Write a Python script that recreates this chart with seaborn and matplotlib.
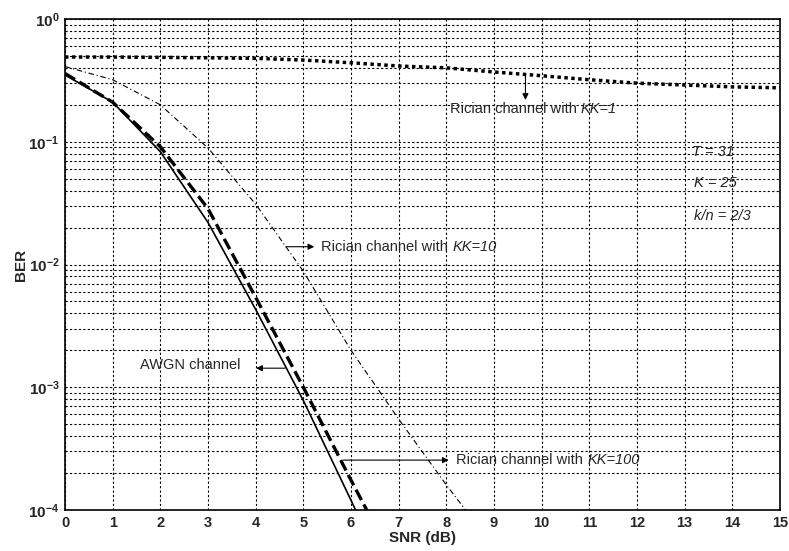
import numpy as np
import pandas as pd
import matplotlib
matplotlib.use("Agg")
import matplotlib.pyplot as plt
import seaborn as sns

# ---- data ----
snr_awgn = [0, 1, 2, 3, 4, 5, 6, 7]
ber_awgn = [0.35, 0.21, 0.083, 0.022, 0.0043, 7.8e-4, 1.2e-4, 1.8e-5]

snr_kk100 = [0, 1, 2, 3, 4, 5, 6, 7]
ber_kk100 = [0.36, 0.21, 0.091, 0.0285, 0.0054, 1.0e-3, 1.75e-4, 3.2e-5]

snr_kk10 = [0, 1, 2, 3, 4, 5, 6, 7, 8, 9]
ber_kk10 = [0.41, 0.32, 0.20, 0.089, 0.031, 0.0088, 0.0020, 5.5e-4, 1.6e-4, 5.0e-5]

snr_kk1 = [0, 1, 2, 3, 4, 5, 6, 7, 8, 9, 10, 11, 12, 13, 14, 15]
ber_kk1 = [0.49, 0.49, 0.487, 0.483, 0.478, 0.463, 0.44, 0.414, 0.40, 0.37,
           0.345, 0.32, 0.30, 0.29, 0.28, 0.275]

x_ticks = list(range(0, 16))
y_ticks = [1e-4, 1e-3, 1e-2, 1e-1, 1e0]
y_tick_labels = [r"$\mathbf{10^{-4}}$", r"$\mathbf{10^{-3}}$", r"$\mathbf{10^{-2}}$",
                 r"$\mathbf{10^{-1}}$", r"$\mathbf{10^{0}}$"]

sns.set_style("white")
plt.rcParams['font.family'] = ['Liberation Sans', 'DejaVu Sans']
plt.rcParams['mathtext.fontset'] = 'custom'
plt.rcParams['mathtext.rm'] = 'Liberation Sans'
plt.rcParams['mathtext.it'] = 'Liberation Sans:italic'
plt.rcParams['mathtext.bf'] = 'Liberation Sans:bold'

fig = plt.figure(figsize=(7.89, 5.51), dpi=100)
ax = fig.add_axes([65/789, 1 - 510/551, (780-65)/789, (510-19)/551])
ax.set_yscale('log')

df_awgn = pd.DataFrame({"SNR": snr_awgn, "BER": ber_awgn})
df_100 = pd.DataFrame({"SNR": snr_kk100, "BER": ber_kk100})
df_10 = pd.DataFrame({"SNR": snr_kk10, "BER": ber_kk10})
df_1 = pd.DataFrame({"SNR": snr_kk1, "BER": ber_kk1})

sns.lineplot(data=df_awgn, x="SNR", y="BER", ax=ax, color='black', lw=1.2,
             linestyle='-')
sns.lineplot(data=df_100, x="SNR", y="BER", ax=ax, color='black', lw=2.4,
             linestyle=(0, (3.5, 1.5)), dash_capstyle='butt')
sns.lineplot(data=df_10, x="SNR", y="BER", ax=ax, color='black', lw=0.8,
             linestyle=(0, (5, 2.5, 1, 2.5)))
sns.lineplot(data=df_1, x="SNR", y="BER", ax=ax, color='black', lw=2.5,
             linestyle=(0, (1, 1)), dash_capstyle='butt')

ax.set_xlim(0, 15)
ax.set_ylim(1e-4, 1)
ax.set_xticks(x_ticks)
ax.set_xticklabels([str(v) for v in x_ticks], fontweight='bold', fontsize=10.5)
ax.set_yticks(y_ticks)
ax.set_yticklabels(y_tick_labels, fontsize=11)
ax.yaxis.set_minor_locator(matplotlib.ticker.LogLocator(base=10, subs=np.arange(2, 10)))
ax.yaxis.set_minor_formatter(matplotlib.ticker.NullFormatter())

ax.grid(True, which='major', axis='both', color='black', linestyle=(0, (2, 2)), lw=0.8)
ax.grid(True, which='minor', axis='y', color='black', linestyle=(0, (2, 2)), lw=0.8)
ax.tick_params(axis='both', which='both', direction='in', length=0, pad=4)
for s in ax.spines.values():
    s.set_color('black')
    s.set_linewidth(1.2)

ax.set_xlabel("SNR (dB)", fontweight='bold', fontsize=11, labelpad=1)
ax.set_ylabel("BER", fontweight='bold', fontsize=11, labelpad=0)

fs = 10.5
arrow = dict(arrowstyle='-|>', color='black', lw=0.8, mutation_scale=9,
             shrinkA=0, shrinkB=0)

# KK=1
ax.annotate("", xy=(9.66, 0.219), xytext=(9.66, 0.35), arrowprops=arrow)
t1 = ax.text(8.07, 0.185, "Rician channel with ", fontsize=fs, va='center', ha='left')
ax.annotate("KK=1", xy=(1, 0.5), xycoords=t1, va='center', ha='left',
            fontsize=fs, style='italic')

# KK=10
ax.annotate("", xy=(5.23, 0.01396), xytext=(4.64, 0.01396), arrowprops=arrow)
t2 = ax.text(5.38, 0.01396, "Rician channel with ", fontsize=fs, va='center', ha='left')
ax.annotate("KK=10", xy=(1, 0.5), xycoords=t2, va='center', ha='left',
            fontsize=fs, style='italic')

# AWGN
ax.annotate("", xy=(4.01, 1.43e-3), xytext=(4.62, 1.43e-3), arrowprops=arrow)
ax.text(1.58, 1.52e-3, "AWGN channel", fontsize=fs, va='center', ha='left')

# KK=100
ax.annotate("", xy=(8.05, 2.55e-4), xytext=(5.84, 2.55e-4), arrowprops=arrow)
t4 = ax.text(8.21, 2.55e-4, "Rician channel with ", fontsize=fs, va='center', ha='left')
ax.annotate("KK=100", xy=(1, 0.5), xycoords=t4, va='center', ha='left',
            fontsize=fs, style='italic')

# parameters
ax.text(13.15, 0.0826, "T = 31", fontsize=fs, style='italic', va='center', ha='left')
ax.text(13.2, 0.0461, "K = 25", fontsize=fs, style='italic', va='center', ha='left')
ax.text(13.19, 0.0248, "k/n = 2/3", fontsize=fs, style='italic', va='center', ha='left')

fig.savefig("out.png", dpi=100)
